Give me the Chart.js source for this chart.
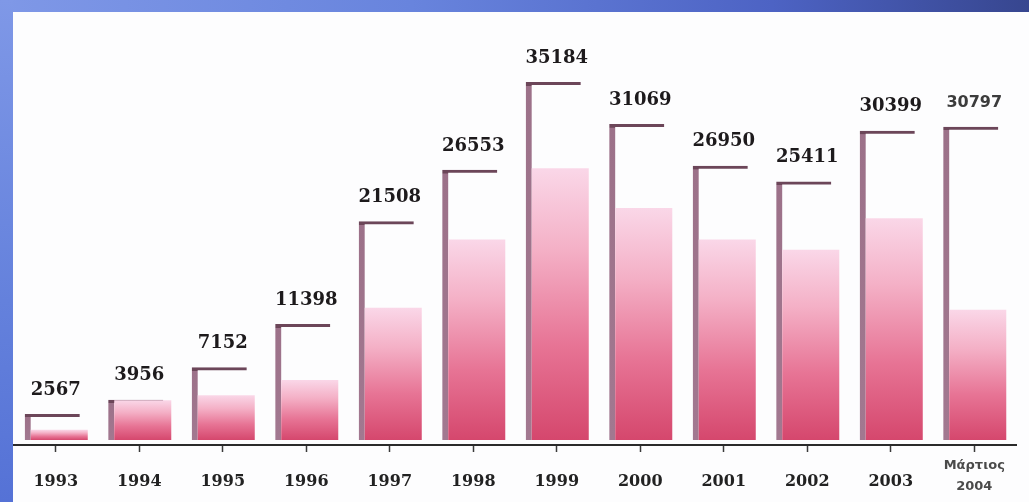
<!DOCTYPE html>
<html>
<head>
<meta charset="utf-8">
<script src="https://cdn.jsdelivr.net/npm/chart.js@4.4.1/dist/chart.umd.min.js"></script>
<style>
  html, body { margin: 0; padding: 0; width: 1029px; height: 502px; overflow: hidden; }
  body { position: relative; background: linear-gradient(90deg, #7f98e7 0%, #6884dd 40%, #4d63c4 75%, #37468f 100%); }
  #edge { position: absolute; left: 0; top: 0; width: 13px; height: 502px; background: linear-gradient(180deg, #7f98e7 0%, #6481dc 60%, #5572d6 100%); }
  #panel { position: absolute; left: 13px; top: 12px; right: 0; bottom: 0; background: #fdfdfe; }
  #wrap { position: absolute; left: 0; top: 0; width: 1029px; height: 502px; }
</style>
</head>
<body>
<div id="edge"></div>
<div id="panel"></div>
<div id="wrap"><canvas id="chart" width="1029" height="502"></canvas></div>
<script>
// Yearly totals, with the last period shown as March 2004
const years = ['1993', '1994', '1995', '1996', '1997', '1998', '1999', '2000', '2001', '2002', '2003', ['Μάρτιος', '2004']];
const totals = [2567, 3956, 7152, 11398, 21508, 26553, 35184, 31069, 26950, 25411, 30399, 30797];
// Height of the shaded inner column of each bar
const fillLevels = [1000, 3900, 4400, 5900, 13000, 19700, 26700, 22800, 19700, 18700, 21800, 12800];

const LAST = years.length - 1;

// Nudges each dataset sideways so the bracket sits just left of the shaded column
const sideShift = {
  id: 'sideShift',
  beforeDatasetDraw(chart, args) {
    const dx = chart.data.datasets[args.index].shiftX || 0;
    chart.ctx.save();
    chart.ctx.translate(dx, 0);
  },
  afterDatasetDraw(chart) {
    chart.ctx.restore();
  }
};

// Writes each total above its bracket
const totalLabels = {
  id: 'totalLabels',
  afterDatasetsDraw(chart) {
    const ctx = chart.ctx;
    const meta = chart.getDatasetMeta(0);
    ctx.save();
    ctx.textAlign = 'center';
    ctx.textBaseline = 'middle';
    meta.data.forEach((bar, i) => {
      if (i === LAST) {
        ctx.font = 'bold 16px "DejaVu Sans"';
        ctx.fillStyle = '#3c3c3c';
      } else {
        ctx.font = 'bold 18px "DejaVu Serif"';
        ctx.fillStyle = '#1d1a1c';
      }
      ctx.fillText(String(totals[i]), bar.x, bar.y - 24);
    });
    ctx.restore();
  }
};

function barSpan(c) {
  const ys = c.chart.scales.y;
  return { top: ys.getPixelForValue(c.raw), base: ys.getPixelForValue(0) };
}

// Shaded column: pale pink at the top, deep rose at the base
function columnFill(c) {
  const chart = c.chart;
  if (!chart.chartArea || c.type !== 'data') return '#e06482';
  const { top, base } = barSpan(c);
  const g = chart.ctx.createLinearGradient(0, top, 0, base);
  g.addColorStop(0, '#fad7e8');
  g.addColorStop(0.3, '#f4b0c6');
  g.addColorStop(0.65, '#e77495');
  g.addColorStop(1, '#d5476d');
  return g;
}

// Bracket: darker cap line, softer mauve upright
function bracketColor(c) {
  const chart = c.chart;
  if (!chart.chartArea || c.type !== 'data') return '#8c6178';
  const { top, base } = barSpan(c);
  const h = Math.max(base - top, 4);
  const g = chart.ctx.createLinearGradient(0, top, 0, base);
  const edge = Math.min(3.5 / h, 0.5);
  g.addColorStop(0, '#6c4659');
  g.addColorStop(edge, '#6c4659');
  g.addColorStop(Math.min(edge + 0.001, 1), '#9c7189');
  g.addColorStop(1, '#a27890');
  return g;
}

new Chart(document.getElementById('chart'), {
  type: 'bar',
  data: {
    labels: years,
    datasets: [
      {
        label: 'Σύνολο',
        data: totals,
        order: 2,
        grouped: false,
        shiftX: -3.5,
        categoryPercentage: 1,
        barPercentage: 0.66,
        backgroundColor: 'rgba(255,255,255,0)',
        borderColor: bracketColor,
        borderWidth: { top: 3, left: 6, right: 0, bottom: 0 },
        borderSkipped: false
      },
      {
        label: 'Στήλη',
        data: fillLevels,
        order: 1,
        grouped: false,
        shiftX: 3.5,
        categoryPercentage: 1,
        barPercentage: 0.683,
        backgroundColor: columnFill,
        borderWidth: 0
      }
    ]
  },
  options: {
    responsive: false,
    animation: false,
    layout: { padding: { left: 14, right: 13, top: 30, bottom: 0 } },
    plugins: {
      legend: { display: false },
      tooltip: { enabled: false },
      title: { display: false }
    },
    scales: {
      x: {
        afterFit: (s) => { s.height = 57; },
        border: { display: true, color: '#2a2a2a', width: 2 },
        grid: {
          display: true,
          drawOnChartArea: false,
          drawTicks: true,
          tickLength: 7,
          tickWidth: 1.5,
          tickColor: '#3a3a3a',
          offset: false
        },
        ticks: {
          autoSkip: false,
          maxRotation: 0,
          minRotation: 0,
          crossAlign: 'far',
          padding: 14,
          color: (c) => (c.index === LAST ? '#4a4a4a' : '#222222'),
          font: (c) => (c.index === LAST
            ? { family: 'DejaVu Sans', size: 13, weight: 'bold', lineHeight: '21px' }
            : { family: 'DejaVu Serif', size: 16, weight: 'bold', lineHeight: '26px' })
        }
      },
      y: {
        display: false,
        min: -490,
        max: 40300
      }
    }
  },
  plugins: [sideShift, totalLabels]
});
</script>
</body>
</html>
